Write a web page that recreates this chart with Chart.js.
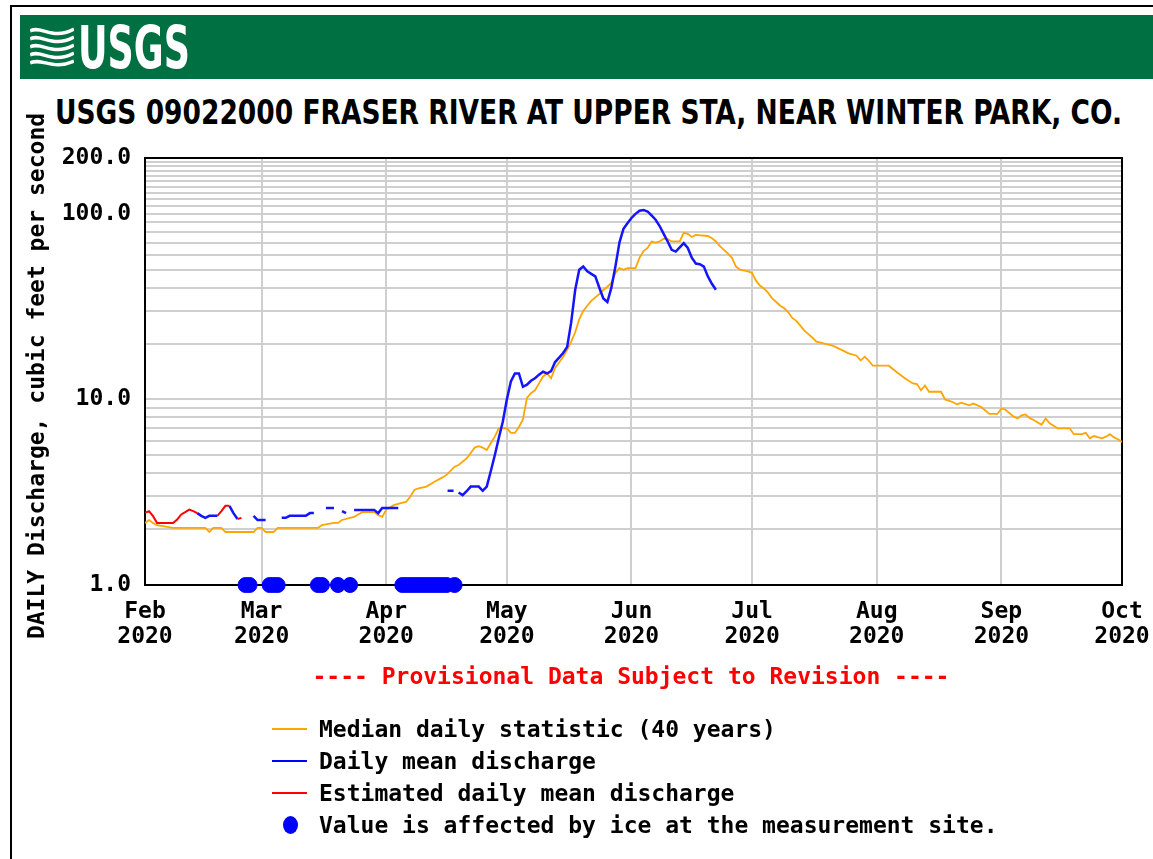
<!DOCTYPE html>
<html>
<head>
<meta charset="utf-8">
<title>USGS 09022000 Fraser River</title>
<script src="https://cdn.jsdelivr.net/npm/chart.js@4.4.1/dist/chart.umd.min.js"></script>
<style>
  html, body { margin: 0; padding: 0; background: #fff; }
  body { width: 1153px; height: 859px; position: relative; overflow: hidden;
         font-family: "DejaVu Sans Mono", monospace; font-weight: bold; }
  #frame { position: absolute; left: 10px; top: 5px; width: 1200px; height: 900px;
           border-left: 2px solid #000; border-top: 2px solid #000; }
  #banner { position: absolute; left: 20px; top: 15px; width: 1140px; height: 64px; background: #006f41; }
  #logoMark { position: absolute; left: 10px; top: 12px; }
  #logoText { position: absolute; left: 58px; top: 4px; color: #fff; white-space: nowrap;
              font-family: "Liberation Sans Narrow", "DejaVu Sans Condensed", sans-serif;
              font-weight: bold; font-size: 58px; line-height: 58px; transform-origin: left top; }
  #title { position: absolute; left: 55px; top: 95px; white-space: nowrap; color: #000;
           font-family: "Liberation Sans Narrow", "DejaVu Sans Condensed", sans-serif;
           font-weight: bold; font-size: 33px; line-height: 36px; transform-origin: left top; }
  #chart { position: absolute; left: 0; top: 0; }
  #ytitle { position: absolute; left: -264px; top: 363px; width: 600px; height: 26px; line-height: 26px;
            text-align: center; font-size: 23px; transform: rotate(-90deg); white-space: nowrap; }
  #prov { position: absolute; left: 131px; top: 663px; width: 1000px; text-align: center;
          font-size: 23px; line-height: 26px; color: #ff0000; white-space: pre; }
  .row { position: absolute; left: 272px; height: 26px; font-size: 23px; line-height: 26px; white-space: pre; }
  .row .swatch { position: absolute; left: 0; top: 12px; width: 35px; height: 2px; }
  .row .dot { position: absolute; left: 11px; top: 4px; width: 15px; height: 18px; border-radius: 50%; background: #0000ff; }
  .row .label { position: absolute; left: 47px; top: 0; }
</style>
</head>
<body>
<div id="frame"></div>
<div id="banner">
  <svg id="logoMark" width="44" height="40" viewBox="0 0 44 40">
    <g fill="none" stroke="#fff" stroke-width="3.5">
      <path d="M0 4 C12 -2, 22 14, 44 2"/>
      <path d="M0 12 C12 6, 22 22, 44 10"/>
      <path d="M0 20 C12 14, 22 30, 44 18"/>
      <path d="M0 28 C12 22, 22 38, 44 26"/>
      <path d="M0 36 C12 30, 22 44, 44 34"/>
    </g>
  </svg>
  <div id="logoText">USGS</div>
</div>
<div id="title">USGS 09022000 FRASER RIVER AT UPPER STA, NEAR WINTER PARK, CO.</div>
<canvas id="chart" width="1153" height="859"></canvas>
<div id="ytitle">DAILY Discharge, cubic feet per second</div>
<div id="prov">---- Provisional Data Subject to Revision ----</div>
<div class="row" style="top:716px"><div class="swatch" style="background:#ffa500"></div><div class="label">Median daily statistic (40 years)</div></div>
<div class="row" style="top:748px"><div class="swatch" style="background:#0000ff"></div><div class="label">Daily mean discharge</div></div>
<div class="row" style="top:780px"><div class="swatch" style="background:#ff0000"></div><div class="label">Estimated daily mean discharge</div></div>
<div class="row" style="top:812px"><div class="dot"></div><div class="label">Value is affected by ice at the measurement site.</div></div>

<script>
// x is days since Feb 1, 2020
const monthStarts = [0, 29, 60, 90, 121, 151, 182, 213, 243];
const monthLabels = ['Feb', 'Mar', 'Apr', 'May', 'Jun', 'Jul', 'Aug', 'Sep', 'Oct'];
const yearLabel = '2020';
const yLabelValues = [1, 10, 100, 200];

// median daily statistic (40 years)
const medianDays = [0, 1, 2, 3, 7, 15, 16, 17, 19, 20, 27, 28, 29, 30, 32, 33, 43, 44, 47, 48,
  49, 51, 52, 53, 54, 57, 58, 59, 60, 62, 63, 65, 66, 67, 68, 70, 72, 74, 75, 77,
  78, 80, 82, 83, 84, 85, 86, 87, 88, 90, 91, 92, 93, 94, 95, 96, 97, 98, 99, 100,
  101, 102, 103, 104, 105, 106, 107, 108, 109, 110, 111, 112, 113, 114, 115, 116, 117, 118, 119, 120,
  122, 123, 124, 125, 126, 127, 128, 129, 130, 131, 133, 134, 135, 136, 137, 140, 141, 142, 143, 144,
  145, 146, 147, 148, 150, 151, 152, 153, 154, 155, 156, 157, 158, 159, 160, 161, 162, 163, 164, 165,
  166, 167, 169, 171, 173, 175, 177, 178, 179, 180, 181, 185, 187, 189, 191, 192, 193, 194, 195, 198,
  199, 201, 202, 203, 205, 206, 208, 210, 212, 213, 214, 216, 217, 218, 219, 220, 221, 223, 224, 225,
  227, 230, 231, 233, 234, 235, 236, 238, 239, 240, 241, 242, 243];
const medianCfs = [2.16, 2.24, 2.16, 2.1, 2.03, 2.03, 1.93, 2.03, 2.03, 1.93, 1.93, 2.03, 2.03, 1.93, 1.93, 2.03, 2.03, 2.1, 2.16, 2.16,
  2.24, 2.3, 2.33, 2.4, 2.47, 2.47, 2.38, 2.33, 2.55, 2.7, 2.74, 2.81, 3.0, 3.25, 3.32, 3.39, 3.6, 3.8, 3.92, 4.34,
  4.43, 4.81, 5.5, 5.6, 5.5, 5.34, 5.8, 6.3, 6.99, 7.0, 6.6, 6.6, 7.1, 7.8, 10.2, 10.8, 11.2, 12.2, 13.3, 13.8,
  13.0, 14.8, 15.8, 17, 18.5, 20.5, 23, 27, 30, 32, 34, 35.5, 37, 38.9, 40.5, 42.5, 48, 51, 50, 51,
  51, 58, 63, 65.5, 71, 70, 71, 73.5, 73, 71, 71, 79, 78, 75, 77, 76, 74, 71, 67, 64,
  61, 58, 52, 50, 49, 48, 43.5, 41, 39.5, 37.5, 35, 33.5, 32, 31, 29.5, 27.5, 26.5, 25, 23.5, 22.5,
  21.5, 20.5, 20, 19.5, 18.6, 17.7, 17.2, 16.2, 17, 16.2, 15.2, 15.2, 14.0, 13.0, 12.2, 12.1, 11.2, 11.9, 11.0, 11.0,
  10.0, 9.66, 9.4, 9.6, 9.3, 9.5, 9.1, 8.35, 8.35, 8.94, 8.8, 8.1, 7.9, 8.2, 8.3, 7.95, 7.75, 7.3, 7.9, 7.43,
  6.99, 6.99, 6.5, 6.5, 6.6, 6.17, 6.35, 6.17, 6.3, 6.5, 6.24, 6.1, 5.9];

// daily mean discharge, one value per day from Feb 1 (null = no value)
const meanCfs = [
  null, null, null, null, null, null, null, null, null, null, null, null, null, 2.44, 2.36, 2.30, 2.36, 2.36, 2.36, null,
  null, 2.67, 2.44, 2.27, null, null, null, 2.36, 2.24, 2.24, 2.24, null, null, null, 2.30, 2.30, 2.36, 2.36, 2.36, 2.36,
  2.36, 2.44, 2.44, null, null, 2.60, 2.60, 2.60, null, 2.50, 2.44, null, 2.54, 2.54, 2.54, 2.54, 2.54, 2.54, 2.44, 2.60,
  2.60, 2.60, 2.60, 2.60, null, null, null, null, null, null, null, null, null, null, null, null, 3.22, null, 3.15, 3.05,
  3.20, 3.39, 3.39, 3.39, 3.22, 3.39, 4.1, 5.0, 6.2, 7.6, 10.0, 12.5, 13.8, 13.8, 11.7, 12.0, 12.6, 13.0, 13.6, 14.1,
  13.8, 14.2, 15.9, 16.8, 17.8, 19.2, 26, 39, 50, 52, 49, 47.5, 46, 40, 35, 33.5, 40, 52, 70, 83,
  89, 95, 100, 104, 105, 103, 98, 93, 86, 78, 71, 64, 62.6, 66, 69.5, 65.5, 58, 54, 53.5, 52,
  46, 42, 39];

// estimated daily mean discharge, one value per day from Feb 1
const estimatedCfs = [2.45, 2.5, 2.35, 2.16, 2.16, 2.16, 2.16, 2.16, 2.25, 2.4, 2.47, 2.55, 2.5, 2.44, null, null, null, null, 2.36, 2.5,
  2.67, 2.67, null, 2.27, 2.30];

// days where the value is affected by ice
const iceDays = [25, 26, 31, 32, 33, 43, 44, 48, 51, 64, 65, 66, 67, 68, 69, 70, 71, 72, 73, 74, 75, 77];

// fit the condensed header texts to their widths
function fitWidth(id, target) {
  const el = document.getElementById(id);
  const w = el.getBoundingClientRect().width;
  el.style.transform = 'scaleX(' + (target / w) + ')';
}
fitWidth('title', 1067);
fitWidth('logoText', 112);

const yGridValues = [];
for (let v = 1; v <= 10; v++) yGridValues.push(v);
for (let v = 20; v <= 200; v += 10) yGridValues.push(v);

const tickFont = { family: 'DejaVu Sans Mono', size: 23, weight: 'bold', lineHeight: 1.1 };
const gridColor = '#cfcfcf';

const toPoints = arr => arr.map((v, i) => ({ x: i, y: v }));

const isolated = c => {
  const d = c.dataset.data;
  const i = c.dataIndex;
  if (!d[i] || d[i].y == null) return 0;
  const prev = d[i - 1], next = d[i + 1];
  return (!prev || prev.y == null) && (!next || next.y == null) ? 3 : 0;
};

const framePlugin = {
  id: 'frame',
  beforeDatasetsDraw(chart) {
    const { ctx, chartArea: a } = chart;
    ctx.save();
    ctx.strokeStyle = '#000';
    ctx.lineWidth = 2;
    ctx.strokeRect(a.left, a.top, a.right - a.left, a.bottom - a.top);
    ctx.restore();
  }
};

new Chart(document.getElementById('chart'), {
  type: 'line',
  data: {
    datasets: [
      {
        label: 'Value is affected by ice at the measurement site.',
        type: 'scatter',
        data: iceDays.map(d => ({ x: d, y: 1 })),
        backgroundColor: '#0000ff',
        borderColor: '#0000ff',
        pointRadius: 7.5,
        clip: false,
        order: 0
      },
      {
        label: 'Estimated daily mean discharge',
        data: toPoints(estimatedCfs),
        borderColor: '#ff0000',
        borderWidth: 2,
        pointRadius: 0,
        spanGaps: false,
        tension: 0,
        order: 1
      },
      {
        label: 'Daily mean discharge',
        data: toPoints(meanCfs),
        borderColor: '#1414ff',
        backgroundColor: '#1414ff',
        borderWidth: 2.5,
        pointStyle: 'line',
        pointRadius: isolated,
        pointBorderWidth: 2.5,
        spanGaps: false,
        tension: 0,
        order: 2
      },
      {
        label: 'Median daily statistic (40 years)',
        data: medianDays.map((d, i) => ({ x: d, y: medianCfs[i] })),
        borderColor: '#ffa500',
        borderWidth: 1.8,
        pointRadius: 0,
        tension: 0,
        order: 3
      }
    ]
  },
  options: {
    responsive: false,
    animation: false,
    devicePixelRatio: 1,
    events: [],
    layout: { padding: { left: 20, right: 31, top: 158, bottom: 194 } },
    plugins: {
      legend: { display: false },
      tooltip: { enabled: false }
    },
    scales: {
      x: {
        type: 'linear',
        min: 0,
        max: 243,
        afterBuildTicks: axis => { axis.ticks = monthStarts.map(v => ({ value: v })); },
        afterFit: axis => {
          axis.height = 80;
          axis.paddingLeft = 0;
          axis.paddingRight = 0;
        },
        grid: { color: gridColor, lineWidth: 2, drawTicks: false },
        border: { display: false },
        ticks: {
          autoSkip: false,
          maxRotation: 0,
          padding: 14,
          color: '#000',
          font: tickFont,
          callback: (v, i) => [monthLabels[i], yearLabel]
        }
      },
      y: {
        type: 'logarithmic',
        min: 1,
        max: 200,
        afterBuildTicks: axis => { axis.ticks = yGridValues.map(v => ({ value: v })); },
        afterFit: axis => { axis.width = 125; },
        grid: { color: gridColor, lineWidth: 2, drawTicks: false },
        border: { display: false },
        ticks: {
          autoSkip: false,
          padding: 14,
          color: '#000',
          font: tickFont,
          callback: v => yLabelValues.includes(v) ? v.toFixed(1) : ''
        }
      }
    }
  },
  plugins: [framePlugin]
});
</script>
</body>
</html>
